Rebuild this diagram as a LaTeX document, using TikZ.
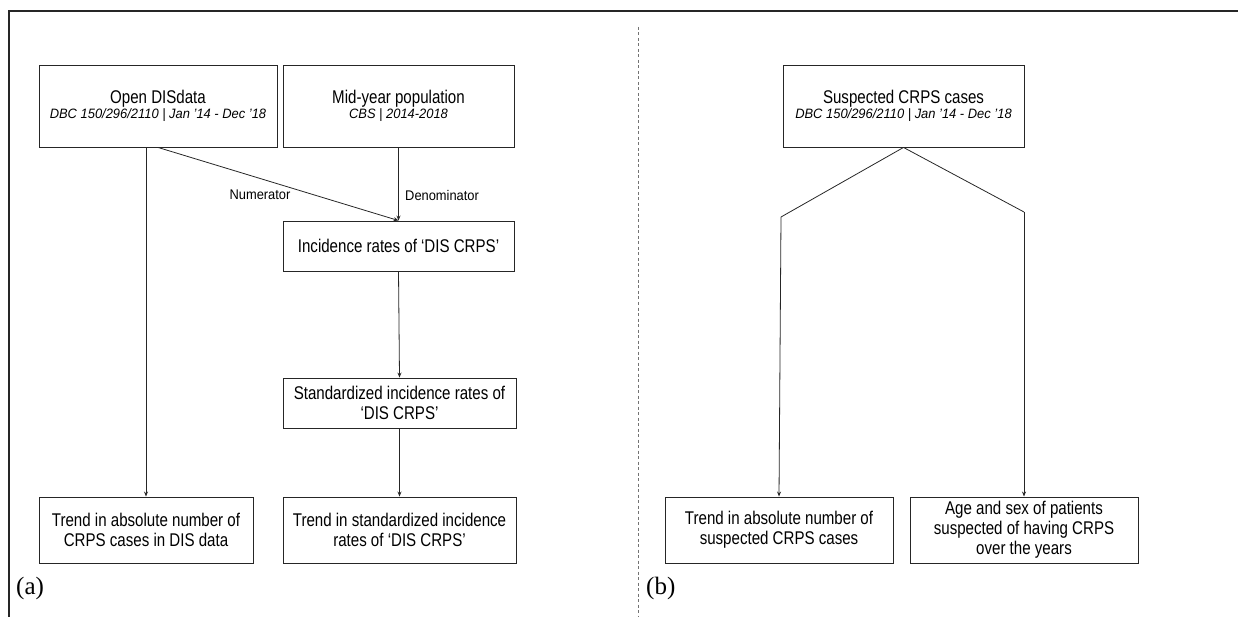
\documentclass[tikz,border=0pt]{standalone}
\usepackage{fontspec}
\setmainfont{Liberation Sans}
\newfontfamily\boxfont[FakeStretch=0.82]{Liberation Sans}
\newfontfamily\subfont[FakeStretch=0.95]{Liberation Sans}
\newfontfamily\lblfont[FakeStretch=0.92]{Liberation Sans}
\newfontfamily\labelserif{Liberation Serif}
\usetikzlibrary{arrows.meta}
\newcommand{\subline}[1]{{\subfont\fontsize{13.6}{14}\selectfont\itshape #1}}
\begin{document}
\begin{tikzpicture}[x=1pt,y=-1pt,
  box/.style={draw=black!85,line width=0.9pt,align=center,inner sep=2pt,font=\boxfont\fontsize{18.4}{20}\selectfont},
  conn/.style={draw=black!85,line width=0.8pt},
  arr/.style={conn,-{Stealth[length=5pt,width=4pt]}},
  lbl/.style={font=\lblfont\fontsize{14}{16}\selectfont,inner sep=0pt},
  panel/.style={font=\labelserif\fontsize{25}{28}\selectfont,inner sep=0pt}]
\useasboundingbox (0,0) rectangle (1238,617);
% frame
\draw[line width=1.3pt,black!85] (9,617) -- (9,11) -- (1238,11);
\draw[black!55,line width=0.8pt,dash pattern=on 3pt off 2.5pt] (638,27) -- (638,617);
% panel (a)
\node[box,minimum width=238pt,minimum height=82pt] (dis) at (158,106)
  {Open DISdata\\[-5pt]\subline{DBC 150/296/2110 | Jan ’14 - Dec ’18}};
\node[box,minimum width=231pt,minimum height=82pt] (mid) at (398.5,106)
  {Mid-year population\\[-5pt]\subline{CBS | 2014-2018}};
\node[box,minimum width=231pt,minimum height=50pt] (inc) at (398.5,246)
  {Incidence rates of ‘DIS CRPS’};
\node[box,minimum width=233pt,minimum height=50pt] (std) at (399.5,403)
  {Standardized incidence rates of\\‘DIS CRPS’};
\node[box,minimum width=214pt,minimum height=66pt] (trA) at (146,530)
  {Trend in absolute number of\\CRPS cases in DIS data};
\node[box,minimum width=233pt,minimum height=66pt] (trS) at (399.5,530)
  {Trend in standardized incidence\\rates of ‘DIS CRPS’};
\draw[arr] (dis.south) -- (inc.north);
\draw[arr] (mid.south) -- (inc.north);
\draw[arr] (trA.north |- dis.south) -- (trA.north);
\draw[arr] (inc.south) -- (std.north);
\draw[arr] (std.south) -- (trS.north);
\node[lbl] (num) at (260,195) {Numerator};
\node[lbl,anchor=west] (den) at (405,195) {Denominator};
\node[panel,anchor=west] (pa) at (16,588) {(a)};
% panel (b)
\node[box,minimum width=241pt,minimum height=82pt] (sus) at (903.5,106)
  {Suspected CRPS cases\\[-5pt]\subline{DBC 150/296/2110 | Jan ’14 - Dec ’18}};
\node[box,minimum width=228pt,minimum height=66pt] (trB) at (779,530)
  {Trend in absolute number of\\suspected CRPS cases};
\node[box,minimum width=228pt,minimum height=66pt] (age) at (1024,530)
  {Age and sex of patients\\suspected of having CRPS\\over the years};
\coordinate (kL) at (781,217);
\coordinate (kR) at (1024,212);
\draw[conn] (sus.south) -- (kL);
\draw[arr] (kL) -- (trB.north);
\draw[conn] (sus.south) -- (kR);
\draw[arr] (kR) -- (age.north);
\node[panel,anchor=west] (pb) at (646,588) {(b)};
\end{tikzpicture}
\end{document}
